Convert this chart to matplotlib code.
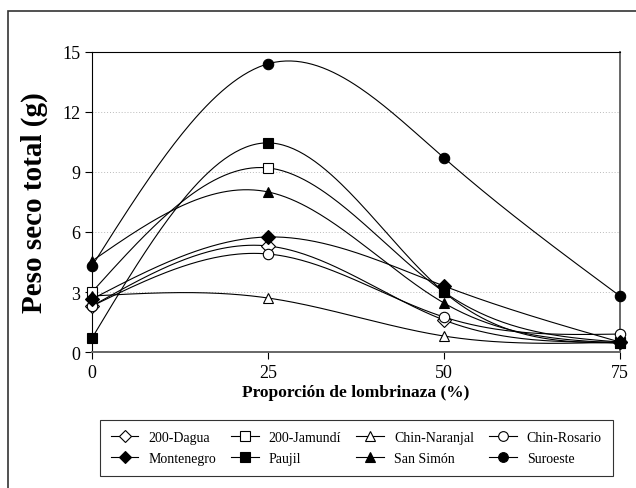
import numpy as np
import matplotlib.pyplot as plt
from matplotlib.patches import Rectangle

# proportion of lombrinaza (%)
x_vals = [0, 25, 50, 75]

series_names = ["200-Dagua", "200-Jamundí", "Chin-Naranjal", "Chin-Rosario",
                "Montenegro", "Paujil", "San Simón", "Suroeste"]
dagua = [2.3, 5.3, 1.6, 0.5]
jamundi = [3.0, 9.2, 3.0, 0.5]
naranjal = [2.8, 2.7, 0.8, 0.5]
rosario = [2.3, 4.9, 1.75, 0.9]
montenegro = [2.65, 5.75, 3.3, 0.5]
paujil = [0.7, 10.45, 3.0, 0.45]
san_simon = [4.55, 8.0, 2.45, 0.45]
suroeste = [4.3, 14.4, 9.7, 2.8]

series_values = [dagua, jamundi, naranjal, rosario,
                 montenegro, paujil, san_simon, suroeste]
markers = ["D", "s", "^", "o", "D", "s", "^", "o"]
filled = [False, False, False, False, True, True, True, True]


def natural_spline(xs, ys, n=200):
    # plain natural cubic spline, only used to draw the smooth line
    xs = np.asarray(xs, float)
    ys = np.asarray(ys, float)
    k = len(xs)
    h = np.diff(xs)
    A = np.zeros((k, k))
    b = np.zeros(k)
    A[0, 0] = A[-1, -1] = 1
    for i in range(1, k - 1):
        A[i, i - 1] = h[i - 1]
        A[i, i] = 2 * (h[i - 1] + h[i])
        A[i, i + 1] = h[i]
        b[i] = 6 * ((ys[i + 1] - ys[i]) / h[i] - (ys[i] - ys[i - 1]) / h[i - 1])
    M = np.linalg.solve(A, b)
    xx = np.linspace(xs[0], xs[-1], n)
    yy = np.zeros_like(xx)
    for j, t in enumerate(xx):
        i = min(np.searchsorted(xs, t, side="right") - 1, k - 2)
        a, c = xs[i], xs[i + 1]
        hi = c - a
        yy[j] = (M[i] * (c - t) ** 3 / (6 * hi) + M[i + 1] * (t - a) ** 3 / (6 * hi)
                 + (ys[i] / hi - M[i] * hi / 6) * (c - t)
                 + (ys[i + 1] / hi - M[i + 1] * hi / 6) * (t - a))
    return xx, yy


plt.rcParams["font.family"] = ["Liberation Serif", "DejaVu Serif"]

fig = plt.figure(figsize=(6.36, 4.89), dpi=100)
ax = fig.add_axes([0.1447, 0.278, 0.830, 0.614])

handles = []
for name, vals, m, f in zip(series_names, series_values, markers, filled):
    xx, yy = natural_spline(x_vals, vals)
    ax.plot(xx, yy, color="black", lw=0.8, zorder=2)
    ms = 7 if m == "D" else 7.5
    ax.plot(x_vals, vals, linestyle="none", marker=m, ms=ms,
            mfc="black" if f else "white", mec="black", mew=0.8, zorder=3,
            clip_on=False)
    h, = ax.plot([], [], color="black", lw=0.8, marker=m, ms=ms - 0.5,
                 mfc="black" if f else "white", mec="black", mew=0.8)
    handles.append(h)

ax.set_xlim(0, 75)
ax.set_ylim(0, 15)
ax.set_xticks([0, 25, 50, 75])
ax.set_yticks([0, 3, 6, 9, 12, 15])
ax.tick_params(direction="out", length=5, labelsize=13, width=0.8)
for t in [3, 6, 9, 12]:
    ax.axhline(t, color="#bbbbbb", lw=0.7, ls=(0, (1, 2)), zorder=1)
for s in ax.spines.values():
    s.set_linewidth(0.8)
for side in ["bottom", "right"]:
    ax.spines[side].set_linewidth(1.4)
    ax.spines[side].set_color("#666666")

ax.set_xlabel("Proporción de lombrinaza (%)", fontsize=12.5, fontweight="bold", labelpad=2)
ax.set_ylabel("Peso seco total (g)", fontsize=21, fontweight="bold", labelpad=10)

# legend is filled column-wise, so reorder to get the row order of the original
order = [0, 4, 1, 5, 2, 6, 3, 7]
leg = fig.legend([handles[i] for i in order], [series_names[i] for i in order],
                 ncol=4, loc="center", bbox_to_anchor=(0.56, 0.082),
                 frameon=True, fancybox=False, edgecolor="black",
                 fontsize=10, handlelength=2.0, columnspacing=1.1,
                 borderpad=0.8, handletextpad=0.7, labelspacing=0.6)
leg.get_frame().set_linewidth(0.8)

# outer frame around the whole chart
fig.patches.append(Rectangle((8 / 636, -0.1), 1.2, 1 - 12 / 489 + 0.1,
                             transform=fig.transFigure, fill=False,
                             edgecolor="#333333", lw=1.2))

fig.savefig("out.png", dpi=100)
